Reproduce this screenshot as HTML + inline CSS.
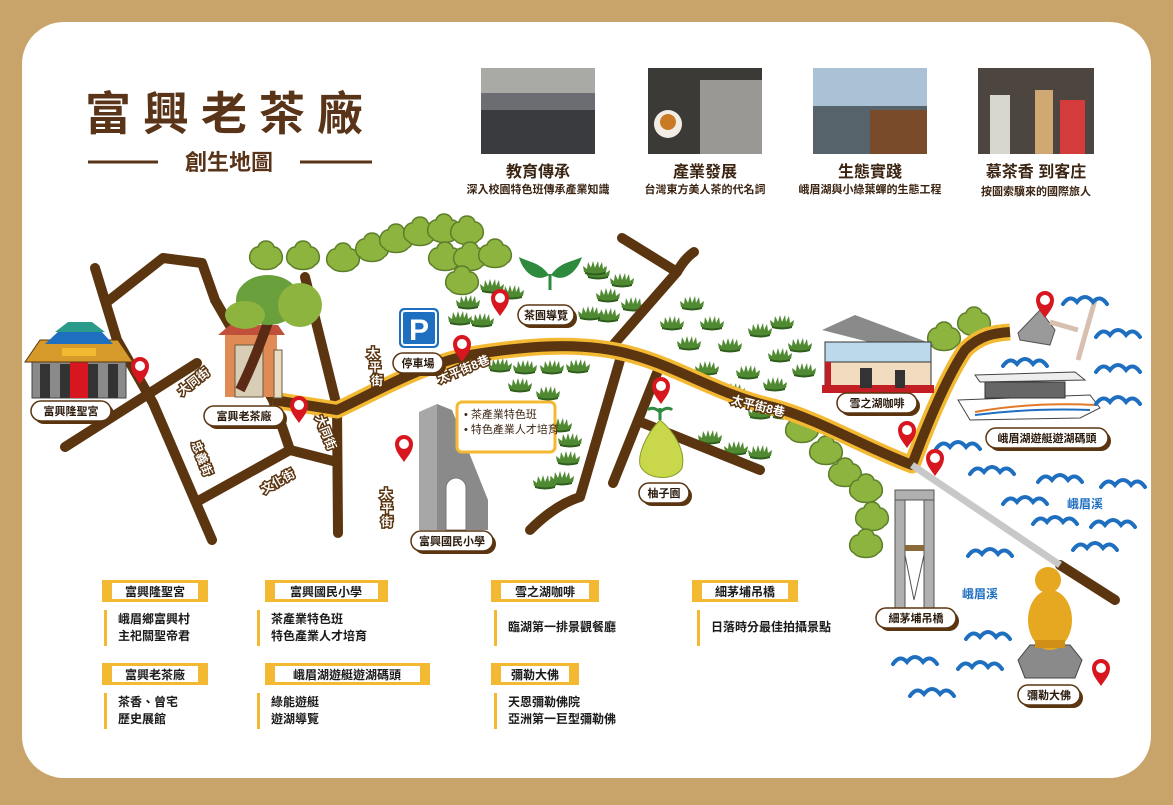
<!DOCTYPE html>
<html><head><meta charset="utf-8">
<style>
html,body{margin:0;padding:0;background:#c9a46a;}
body{width:1173px;height:800px;overflow:hidden;font-family:"Liberation Sans","Noto Sans CJK TC",sans-serif;}
text{font-family:"Liberation Sans","Noto Sans CJK TC",sans-serif;}
</style></head><body>
<svg width="1173" height="800" viewBox="0 0 1173 800" xmlns="http://www.w3.org/2000/svg">
<defs>
<g id="pin"><path d="M0,14 C-4,8 -9,3 -9,-4 A9,9 0 1 1 9,-4 C9,3 4,8 0,14Z" fill="#d7161f"/><circle cx="0" cy="-4" r="5" fill="#fff"/></g>
<g id="bush"><path d="M-11,4 L-12,-2 L-8,1 L-7,-6 L-4,0 L-2,-7 L0,0 L3,-7 L4,0 L7,-6 L8,1 L12,-2 L11,4 Q0,8 -11,4Z" fill="#4f8a32"/><path d="M-10,4 Q0,7 10,4 L10,6 Q0,9 -10,6Z" fill="#2f5e1e"/></g>
<g id="tree"><path d="M-12,8 C-20,4 -16,-10 -8,-10 C-6,-18 6,-18 8,-10 C16,-10 20,4 12,8 C8,14 -8,14 -12,8Z" fill="#8db43f" stroke="#5e7f2a" stroke-width="1.5"/></g>
<g id="wave"><path d="M-22,4 Q-15,-6 -8,2 Q0,-8 8,2 Q15,-6 22,4" fill="none" stroke="#1f6fc0" stroke-width="4" stroke-linecap="round"/></g>
</defs>
<rect x="22" y="22" width="1129" height="756" rx="42" fill="#fff"/>

<!-- title -->
<text x="230" y="130" font-size="46" font-weight="bold" fill="#5a3418" text-anchor="middle" letter-spacing="12">富興老茶廠</text>
<line x1="88" y1="162" x2="158" y2="162" stroke="#5a3418" stroke-width="3"/>
<line x1="300" y1="162" x2="372" y2="162" stroke="#5a3418" stroke-width="3"/>
<text x="229" y="170" font-size="22" font-weight="bold" fill="#5a3418" text-anchor="middle">創生地圖</text>

<!-- photos -->
<rect x="481" y="68" width="114" height="86" fill="#6b6d72"/><rect x="481" y="110" width="114" height="44" fill="#3a3b3f"/><rect x="481" y="68" width="114" height="25" fill="#a9aaa6"/>
<rect x="648" y="68" width="114" height="86" fill="#3c3a36"/><rect x="700" y="80" width="62" height="74" fill="#9a9894"/><circle cx="668" cy="124" r="14" fill="#f2ede4"/><circle cx="668" cy="122" r="8" fill="#c97a25"/>
<rect x="813" y="68" width="114" height="86" fill="#aac1d6"/><rect x="813" y="106" width="114" height="48" fill="#56636b"/><rect x="870" y="110" width="57" height="44" fill="#7a4b2b"/>
<rect x="978" y="68" width="116" height="86" fill="#4d4640"/><rect x="990" y="95" width="20" height="59" fill="#d7d6cf"/><rect x="1060" y="100" width="25" height="54" fill="#d43c3c"/><rect x="1035" y="90" width="18" height="64" fill="#cfa874"/>
<g font-weight="bold" fill="#3b2412" text-anchor="middle">
<text x="538" y="177" font-size="16">教育傳承</text><text x="538" y="193" font-size="11">深入校園特色班傳承產業知識</text>
<text x="705" y="177" font-size="16">產業發展</text><text x="705" y="193" font-size="11">台灣東方美人茶的代名詞</text>
<text x="870" y="177" font-size="16">生態實踐</text><text x="870" y="193" font-size="11">峨眉湖與小綠葉蟬的生態工程</text>
<text x="1036" y="177" font-size="16">慕茶香 到客庄</text><text x="1036" y="195" font-size="11">按圖索驥來的國際旅人</text>
</g>

<!-- greenery -->
<g>
<use href="#tree" x="266" y="257"/><use href="#tree" x="303" y="257"/><use href="#tree" x="343" y="259"/><use href="#tree" x="372" y="249"/>
<use href="#tree" x="396" y="240"/><use href="#tree" x="420" y="233"/><use href="#tree" x="444" y="230"/><use href="#tree" x="467" y="232"/>
<use href="#tree" x="445" y="258"/><use href="#tree" x="470" y="258"/><use href="#tree" x="495" y="255"/><use href="#tree" x="462" y="282"/>
<use href="#tree" x="944" y="338"/><use href="#tree" x="974" y="323"/>
<use href="#tree" x="802" y="430"/><use href="#tree" x="826" y="452"/><use href="#tree" x="845" y="474"/><use href="#tree" x="866" y="490"/><use href="#tree" x="872" y="518"/><use href="#tree" x="866" y="545"/>
</g>
<g>
<use href="#bush" x="468" y="302"/><use href="#bush" x="460" y="318"/><use href="#bush" x="492" y="286"/><use href="#bush" x="482" y="320"/><use href="#bush" x="512" y="292"/>
<use href="#bush" x="598" y="272"/><use href="#bush" x="622" y="280"/><use href="#bush" x="608" y="295"/><use href="#bush" x="633" y="304"/><use href="#bush" x="608" y="315"/><use href="#bush" x="590" y="313"/><use href="#bush" x="595" y="268"/>
<use href="#bush" x="525" y="367"/><use href="#bush" x="552" y="367"/><use href="#bush" x="578" y="366"/><use href="#bush" x="500" y="365"/><use href="#bush" x="520" y="385"/><use href="#bush" x="548" y="393"/><use href="#bush" x="570" y="440"/><use href="#bush" x="568" y="458"/><use href="#bush" x="562" y="478"/><use href="#bush" x="560" y="425"/><use href="#bush" x="545" y="482"/>
<use href="#bush" x="692" y="303"/><use href="#bush" x="672" y="323"/><use href="#bush" x="712" y="323"/><use href="#bush" x="689" y="343"/><use href="#bush" x="730" y="345"/><use href="#bush" x="707" y="368"/><use href="#bush" x="748" y="372"/><use href="#bush" x="733" y="390"/><use href="#bush" x="760" y="412"/><use href="#bush" x="775" y="384"/><use href="#bush" x="783" y="412"/><use href="#bush" x="760" y="330"/><use href="#bush" x="782" y="322"/><use href="#bush" x="800" y="345"/><use href="#bush" x="804" y="370"/><use href="#bush" x="780" y="355"/>
<use href="#bush" x="710" y="437"/><use href="#bush" x="736" y="448"/><use href="#bush" x="760" y="452"/>
</g>
<!-- tea leaf -->
<path d="M550,290 L550,274" stroke="#2e8b3e" stroke-width="3"/>
<path d="M549,275 C540,262 528,262 519,257 C522,270 535,284 549,275Z" fill="#2e8b3e"/>
<path d="M551,275 C560,262 572,262 582,257 C578,270 565,284 551,275Z" fill="#2e8b3e"/>

<!-- roads -->
<g fill="none" stroke="#5a3510" stroke-width="10" stroke-linecap="round" stroke-linejoin="round">
<path d="M95,268 L117,340 L153,403 L212,540"/>
<path d="M107,302 L163,258 L202,263 L215,300 L273,400"/>
<path d="M65,447 L197,363"/>
<path d="M200,500 L290,450 L337,462"/>
<path d="M273,400 L290,450"/>
<path d="M305,277 L337,407 L338,533"/>
<path d="M622,238 L677,272 M694,252 Q685,258 677,272 L607,352"/>
<path d="M620,360 L580,497 Q555,505 530,530"/>
<path d="M657,373 L613,483"/>
<path d="M643,423 L760,470"/>
<path d="M1060,565 L1115,600"/>
</g>
<path d="M273,400 L337,410 C370,395 420,365 470,355 C520,347 580,340 633,355 C680,368 720,395 773,407 C820,420 860,445 912,465 C925,430 945,380 965,350 C980,335 995,333 1010,332" fill="none" stroke="#f4b932" stroke-width="17" stroke-linejoin="round"/>
<path d="M273,400 L337,410 C370,395 420,365 470,355 C520,347 580,340 633,355 C680,368 720,395 773,407 C820,420 860,445 912,465 C925,430 945,380 965,350 C980,335 995,333 1010,332" fill="none" stroke="#5a3510" stroke-width="10" stroke-linejoin="round"/>
<line x1="912" y1="465" x2="1060" y2="565" stroke="#c8c8c8" stroke-width="7"/>

<!-- road labels -->
<g font-size="12" font-weight="bold" fill="#fff" stroke="#5a3510" stroke-width="3" paint-order="stroke" text-anchor="middle">
<text transform="translate(196,385) rotate(-38)">大同街</text>
<text transform="translate(198,460) rotate(68)">忠義街</text>
<text transform="translate(322,434) rotate(68)">大同街</text>
<text transform="translate(280,485) rotate(-30)">文化街</text>
<text transform="translate(465,373) rotate(-22)">太平街8巷</text>
<text transform="translate(757,410) rotate(14)">太平街8巷</text>
<text x="373" y="357">太</text><text x="375" y="371">平</text><text x="377" y="385">街</text>
<text x="386" y="498">太</text><text x="387" y="512">平</text><text x="387" y="526">街</text>
</g>

<!-- temple -->
<g>
<rect x="32" y="360" width="94" height="38" fill="#8a8a8a" stroke="#444"/>
<rect x="40" y="364" width="10" height="34" fill="#333"/><rect x="60" y="364" width="10" height="34" fill="#333"/><rect x="88" y="364" width="10" height="34" fill="#333"/><rect x="108" y="364" width="10" height="34" fill="#333"/>
<rect x="70" y="360" width="18" height="38" fill="#d7161f"/>
<path d="M25,362 L40,340 L118,340 L133,362Z" fill="#d59a2a" stroke="#5a3510"/>
<path d="M45,344 L60,330 L100,330 L113,344Z" fill="#1f6fc0"/>
<path d="M55,332 L68,322 L92,322 L105,332Z" fill="#2a9a8a"/>
<rect x="62" y="348" width="34" height="8" fill="#f4b932"/>
</g>
<!-- tea factory & tree -->
<g>
<rect x="225" y="335" width="52" height="62" fill="#e08a55"/>
<rect x="235" y="345" width="28" height="52" fill="#d8cdb5" stroke="#6a5a40"/>
<path d="M218,335 L230,325 L278,325 L285,335Z" fill="#c0503a"/>
<path d="M240,390 C255,360 265,330 280,290" stroke="#5a2a15" stroke-width="10" fill="none"/>
<ellipse cx="268" cy="300" rx="32" ry="25" fill="#6aa03c"/>
<ellipse cx="300" cy="305" rx="22" ry="22" fill="#8db43f"/>
<ellipse cx="245" cy="315" rx="20" ry="14" fill="#8db43f"/>
<rect x="274" y="350" width="8" height="48" fill="#e9dcc0" stroke="#6a5a40"/>
</g>
<!-- parking -->
<rect x="399" y="308" width="40" height="40" rx="5" fill="#1f6fc0"/><rect x="402" y="311" width="34" height="34" rx="3" fill="none" stroke="#fff" stroke-width="2"/>
<text x="419" y="340" font-size="30" font-weight="bold" fill="#fff" text-anchor="middle">P</text>
<!-- school -->
<path d="M419,412 L437,404 L437,530 L419,530Z" fill="#a7a7a7"/>
<path d="M437,404 L452,410 L488,500 L488,530 L437,530Z" fill="#8a8a8a"/>
<path d="M446,530 L446,488 A10,10 0 0 1 466,488 L466,530Z" fill="#fff" stroke="#777"/>
<rect x="457" y="402" width="98" height="50" rx="5" fill="#fff" stroke="#f4b932" stroke-width="3"/>
<text x="464" y="418" font-size="11" fill="#3b2412">• 茶產業特色班</text>
<text x="464" y="433" font-size="11" fill="#3b2412">• 特色產業人才培育</text>
<!-- pomelo -->
<path d="M660,420 C645,435 638,455 640,465 C645,480 675,482 682,468 C686,452 675,432 660,420Z" fill="#c9d84a" stroke="#8a9a2a"/>
<path d="M660,420 L660,408 M660,412 C652,405 648,410 648,410 M660,412 C668,405 672,410 672,410" stroke="#2e8b3e" stroke-width="3" fill="none"/>
<!-- cafe -->
<g>
<path d="M822,330 L855,315 L935,345 L900,350Z" fill="#8a8a8a"/>
<rect x="825" y="342" width="106" height="20" fill="#bcd9ec" stroke="#333"/>
<rect x="825" y="362" width="106" height="30" fill="#f2dcc0" stroke="#333"/>
<rect x="822" y="385" width="112" height="8" fill="#c41e25"/>
<rect x="825" y="362" width="6" height="30" fill="#c41e25"/>
<rect x="860" y="368" width="12" height="20" fill="#333"/><rect x="895" y="370" width="10" height="18" fill="#333"/>
</g>
<!-- pier -->
<path d="M1018,333 L1040,310 L1055,330 L1050,345 L1020,340Z" fill="#9a9a9a" stroke="#555"/>
<path d="M1078,360 L1095,300" stroke="#d8c0b0" stroke-width="5"/><path d="M1050,322 L1078,330" stroke="#d8c0b0" stroke-width="5"/>
<!-- boat -->
<path d="M958,400 L1090,395 L1100,408 L1080,418 L970,420 Z" fill="#fff" stroke="#444"/>
<rect x="985" y="382" width="80" height="16" fill="#666" stroke="#333"/>
<path d="M975,375 L1075,372 L1085,380 L980,382Z" fill="#eee" stroke="#444"/>
<path d="M975,412 Q1030,402 1095,405" stroke="#e07a2a" stroke-width="2" fill="none"/>
<path d="M975,415 Q1030,408 1090,410" stroke="#1f6fc0" stroke-width="2" fill="none"/>
<!-- bridge -->
<rect x="895" y="490" width="10" height="120" fill="#b0b0b0" stroke="#555"/>
<rect x="924" y="490" width="10" height="120" fill="#b0b0b0" stroke="#555"/>
<rect x="895" y="490" width="39" height="10" fill="#b0b0b0" stroke="#555"/>
<rect x="905" y="545" width="19" height="6" fill="#8a6a3a"/>
<path d="M905,555 L914,600 L924,555" stroke="#555" fill="none"/>
<!-- buddha -->
<path d="M1018,660 L1030,645 L1070,645 L1082,660 L1075,678 L1025,678Z" fill="#8a8a8a" stroke="#444"/>
<ellipse cx="1050" cy="620" rx="22" ry="30" fill="#e6a820"/>
<circle cx="1048" cy="580" r="13" fill="#e6a820"/>
<rect x="1035" y="640" width="30" height="8" fill="#d09018"/>

<!-- waves -->
<g>
<use href="#wave" x="1085" y="300"/><use href="#wave" x="1118" y="333"/><use href="#wave" x="1025" y="362"/><use href="#wave" x="1118" y="368"/><use href="#wave" x="1118" y="400"/>
<use href="#wave" x="958" y="445"/><use href="#wave" x="992" y="470"/><use href="#wave" x="1060" y="478"/><use href="#wave" x="1123" y="483"/>
<use href="#wave" x="1025" y="500"/><use href="#wave" x="1055" y="520"/><use href="#wave" x="1113" y="523"/><use href="#wave" x="990" y="552"/><use href="#wave" x="1095" y="546"/>
<use href="#wave" x="988" y="635"/><use href="#wave" x="980" y="665"/><use href="#wave" x="915" y="660"/><use href="#wave" x="932" y="692"/>
</g>
<text x="1085" y="508" font-size="12" font-weight="bold" fill="#1f6fc0" text-anchor="middle">峨眉溪</text>
<text x="980" y="598" font-size="12" font-weight="bold" fill="#1f6fc0" text-anchor="middle">峨眉溪</text>

<!-- pins -->
<use href="#pin" x="140" y="370"/><use href="#pin" x="299" y="409"/><use href="#pin" x="404" y="448"/><use href="#pin" x="462" y="348"/><use href="#pin" x="500" y="302"/>
<use href="#pin" x="661" y="390"/><use href="#pin" x="907" y="434"/><use href="#pin" x="935" y="462"/><use href="#pin" x="1045" y="304"/><use href="#pin" x="1101" y="672"/>

<!-- place labels -->
<g font-size="11" font-weight="bold" fill="#2a1a0c" text-anchor="middle">
<rect x="34" y="404" width="80" height="20" rx="10" fill="#5a3510"/><rect x="31" y="401" width="80" height="20" rx="10" fill="#fff" stroke="#5a3510" stroke-width="1.5"/><text x="71" y="415">富興隆聖宮</text>
<rect x="207" y="409" width="80" height="20" rx="10" fill="#5a3510"/><rect x="204" y="406" width="80" height="20" rx="10" fill="#fff" stroke="#5a3510" stroke-width="1.5"/><text x="244" y="420">富興老茶廠</text>
<rect x="396" y="356" width="50" height="20" rx="10" fill="#5a3510"/><rect x="393" y="353" width="50" height="20" rx="10" fill="#fff" stroke="#5a3510" stroke-width="1.5"/><text x="418" y="367">停車場</text>
<rect x="521" y="308" width="56" height="20" rx="10" fill="#5a3510"/><rect x="518" y="305" width="56" height="20" rx="10" fill="#fff" stroke="#5a3510" stroke-width="1.5"/><text x="546" y="319">茶園導覽</text>
<rect x="414" y="534" width="82" height="20" rx="10" fill="#5a3510"/><rect x="411" y="531" width="82" height="20" rx="10" fill="#fff" stroke="#5a3510" stroke-width="1.5"/><text x="452" y="545">富興國民小學</text>
<rect x="642" y="486" width="50" height="20" rx="10" fill="#5a3510"/><rect x="639" y="483" width="50" height="20" rx="10" fill="#fff" stroke="#5a3510" stroke-width="1.5"/><text x="664" y="497">柚子園</text>
<rect x="840" y="396" width="80" height="20" rx="10" fill="#5a3510"/><rect x="837" y="393" width="80" height="20" rx="10" fill="#fff" stroke="#5a3510" stroke-width="1.5"/><text x="877" y="407">雪之湖咖啡</text>
<rect x="989" y="431" width="122" height="20" rx="10" fill="#5a3510"/><rect x="986" y="428" width="122" height="20" rx="10" fill="#fff" stroke="#5a3510" stroke-width="1.5"/><text x="1047" y="442">峨眉湖遊艇遊湖碼頭</text>
<rect x="879" y="611" width="80" height="20" rx="10" fill="#5a3510"/><rect x="876" y="608" width="80" height="20" rx="10" fill="#fff" stroke="#5a3510" stroke-width="1.5"/><text x="916" y="622">細茅埔吊橋</text>
<rect x="1021" y="688" width="62" height="20" rx="10" fill="#5a3510"/><rect x="1018" y="685" width="62" height="20" rx="10" fill="#fff" stroke="#5a3510" stroke-width="1.5"/><text x="1049" y="699">彌勒大佛</text>
</g>

<!-- legend -->
<g font-size="12" font-weight="bold" fill="#1a1a1a">
<rect x="102" y="580" width="106" height="22" fill="#f4b932"/><rect x="112" y="583" width="86" height="16" fill="#fff"/><text x="155" y="596" text-anchor="middle">富興隆聖宮</text>
<rect x="104" y="610" width="3" height="36" fill="#f4b932"/><text x="118" y="623">峨眉鄉富興村</text><text x="118" y="640">主祀關聖帝君</text>
<rect x="102" y="663" width="106" height="22" fill="#f4b932"/><rect x="112" y="666" width="86" height="16" fill="#fff"/><text x="155" y="679" text-anchor="middle">富興老茶廠</text>
<rect x="104" y="693" width="3" height="36" fill="#f4b932"/><text x="118" y="706">茶香、曾宅</text><text x="118" y="723">歷史展館</text>

<rect x="265" y="580" width="123" height="22" fill="#f4b932"/><rect x="275" y="583" width="103" height="16" fill="#fff"/><text x="326" y="596" text-anchor="middle">富興國民小學</text>
<rect x="257" y="610" width="3" height="36" fill="#f4b932"/><text x="271" y="623">茶產業特色班</text><text x="271" y="640">特色產業人才培育</text>
<rect x="265" y="663" width="165" height="22" fill="#f4b932"/><rect x="275" y="666" width="145" height="16" fill="#fff"/><text x="347" y="679" text-anchor="middle">峨眉湖遊艇遊湖碼頭</text>
<rect x="257" y="693" width="3" height="36" fill="#f4b932"/><text x="271" y="706">綠能遊艇</text><text x="271" y="723">遊湖導覽</text>

<rect x="491" y="580" width="108" height="22" fill="#f4b932"/><rect x="501" y="583" width="88" height="16" fill="#fff"/><text x="545" y="596" text-anchor="middle">雪之湖咖啡</text>
<rect x="494" y="610" width="3" height="36" fill="#f4b932"/><text x="508" y="631">臨湖第一排景觀餐廳</text>
<rect x="491" y="663" width="88" height="22" fill="#f4b932"/><rect x="501" y="666" width="68" height="16" fill="#fff"/><text x="535" y="679" text-anchor="middle">彌勒大佛</text>
<rect x="494" y="693" width="3" height="36" fill="#f4b932"/><text x="508" y="706">天恩彌勒佛院</text><text x="508" y="723">亞洲第一巨型彌勒佛</text>

<rect x="692" y="580" width="106" height="22" fill="#f4b932"/><rect x="702" y="583" width="86" height="16" fill="#fff"/><text x="745" y="596" text-anchor="middle">細茅埔吊橋</text>
<rect x="697" y="610" width="3" height="36" fill="#f4b932"/><text x="711" y="631">日落時分最佳拍攝景點</text>
</g>
</svg>
</body></html>
